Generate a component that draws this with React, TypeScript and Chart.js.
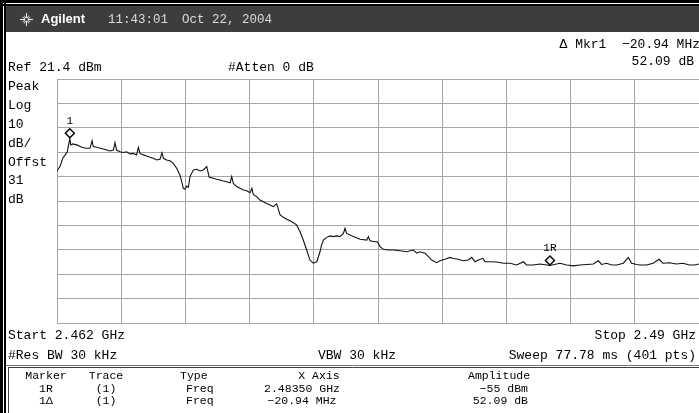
import React, { useEffect, useRef } from "react";
import { Chart, registerables } from "chart.js";

Chart.register(...registerables);

// Sweep / display settings
const START_MHZ = 2462;
const STOP_MHZ = 2490;
const REF_LEVEL_DBM = 21.4;
const DB_PER_DIV = 10;
const DIVISIONS = 10;

// Trace 1: frequency (MHz) and level (dBm)
const traceFreqMHz = [
  2462.0, 2462.13, 2462.25, 2462.35, 2462.45, 2462.56, 2462.6, 2462.68, 2462.86, 2463.08,
  2463.26, 2463.44, 2463.53, 2463.58, 2463.73, 2463.88, 2464.02, 2464.17, 2464.31, 2464.46,
  2464.53, 2464.6, 2464.75, 2464.89, 2465.04, 2465.18, 2465.33, 2465.47, 2465.55, 2465.62,
  2465.77, 2465.91, 2466.06, 2466.2, 2466.35, 2466.49, 2466.58, 2466.64, 2466.78, 2466.93,
  2467.07, 2467.22, 2467.36, 2467.44, 2467.51, 2467.58, 2467.66, 2467.73, 2467.8, 2467.95,
  2468.09, 2468.24, 2468.38, 2468.53, 2468.64, 2468.82, 2468.96, 2469.11, 2469.25, 2469.4,
  2469.55, 2469.62, 2469.69, 2469.84, 2469.98, 2470.13, 2470.27, 2470.42, 2470.5, 2470.56,
  2470.71, 2470.85, 2471.0, 2471.14, 2471.29, 2471.43, 2471.58, 2471.64, 2471.73, 2471.87,
  2472.02, 2472.16, 2472.31, 2472.45, 2472.6, 2472.74, 2472.89, 2473.03, 2473.18, 2473.33,
  2473.47, 2473.54, 2473.62, 2473.76, 2473.91, 2474.05, 2474.2, 2474.34, 2474.49, 2474.56,
  2474.63, 2474.78, 2474.92, 2475.22, 2475.51, 2475.58, 2475.65, 2475.87, 2475.97, 2476.09,
  2476.23, 2476.45, 2476.67, 2476.96, 2477.25, 2477.54, 2477.69, 2477.83, 2478.05, 2478.2,
  2478.34, 2478.56, 2478.7, 2478.92, 2479.14, 2479.29, 2479.5, 2479.72, 2479.94, 2480.09,
  2480.23, 2480.38, 2480.57, 2480.67, 2480.88, 2481.18, 2481.47, 2481.76, 2482.05, 2482.34,
  2482.48, 2482.77, 2483.07, 2483.36, 2483.5, 2483.94, 2484.23, 2484.52, 2484.81, 2485.1,
  2485.39, 2485.61, 2485.75, 2485.97, 2486.19, 2486.41, 2486.7, 2486.92, 2487.06, 2487.28,
  2487.42, 2487.71, 2488.0, 2488.26, 2488.43, 2488.72, 2489.01, 2489.3, 2489.59, 2489.81,
  2490.0,
];
const traceLevelDbm = [
  -16.2, -14.5, -11.1, -9.8, -8.4, -2.91, -5.6, -5.2, -5.6, -6.6,
  -7.0, -7.0, -3.9, -6.3, -6.6, -7.0, -7.3, -7.7, -8.1, -7.7,
  -4.7, -7.7, -8.4, -8.7, -8.4, -9.3, -9.1, -9.7, -6.6, -9.1,
  -9.7, -10.2, -10.7, -11.1, -11.8, -11.5, -8.8, -11.1, -11.8, -12.1,
  -13.2, -15.2, -17.9, -20.7, -23.4, -23.8, -22.5, -23.0, -18.6, -15.9,
  -15.6, -16.3, -15.9, -14.5, -18.9, -19.3, -19.7, -20.0, -20.4, -20.7,
  -21.1, -18.6, -21.4, -22.7, -23.4, -24.1, -24.4, -25.2, -23.4, -25.9,
  -26.8, -28.2, -28.9, -29.6, -30.2, -30.9, -29.8, -31.6, -34.3, -35.3,
  -36.1, -36.7, -37.5, -38.4, -41.2, -44.6, -48.7, -52.8, -54.1, -53.5,
  -49.4, -46.6, -44.6, -43.5, -42.9, -43.2, -42.9, -43.2, -41.9, -39.8,
  -41.9, -42.5, -43.2, -44.3, -44.6, -43.2, -44.9, -45.3, -45.3, -47.3,
  -48.4, -48.7, -48.7, -49.0, -49.4, -48.7, -50.0, -49.4, -50.0, -51.4,
  -52.8, -53.9, -53.1, -52.5, -51.7, -52.2, -52.5, -53.1, -52.8, -51.7,
  -53.5, -52.8, -52.1, -53.5, -53.5, -53.6, -54.1, -54.1, -54.8, -53.5,
  -54.8, -54.8, -54.4, -54.8, -55.0, -54.1, -54.8, -55.2, -54.8, -54.6,
  -54.4, -53.1, -54.6, -54.1, -54.8, -54.8, -54.1, -51.7, -54.1, -54.6,
  -54.8, -54.8, -54.1, -52.5, -54.1, -53.9, -54.4, -54.1, -54.8, -54.8,
  -54.4,
];

// Markers (reference marker 1R and delta marker 1)
const markerNames = ["1", "1R"];
const markerFreqMHz = [2462.56, 2483.5];
const markerLevelDbm = [-2.91, -55];

// Screen annotations
const titleBrand = "Agilent";
const titleTime = "11:43:01";
const titleDate = "Oct 22, 2004";
const deltaReadout = ["\u0394 Mkr1  \u221220.94 MHz", "52.09 dB"];
const refText = "Ref 21.4 dBm";
const attenText = "#Atten 0 dB";
const sideLabels = ["Peak", "Log", "10", "dB/", "Offst", "31", "dB"];
const startText = "Start 2.462 GHz";
const stopText = "Stop 2.49 GHz";
const rbwText = "#Res BW 30 kHz";
const vbwText = "VBW 30 kHz";
const sweepText = "Sweep 77.78 ms (401 pts)";
const tableHeader = ["Marker", "Trace", "Type", "X Axis", "Amplitude"];
const tableRow1 = ["1R", "(1)", "Freq", "2.48350 GHz", "\u221255 dBm"];
const tableRow2 = ["1\u0394", "(1)", "Freq", "\u221220.94 MHz", "52.09 dB"];

const W = 699;
const H = 413;
const MONO = '"Liberation Mono", "DejaVu Sans Mono", monospace';

const screenPlugin = {
  id: "screen",
  beforeDraw(chart: any) {
    const ctx = chart.ctx as CanvasRenderingContext2D;
    ctx.save();
    ctx.fillStyle = "#ffffff";
    ctx.fillRect(0, 0, W, H);
    // outer frame
    ctx.fillStyle = "#000";
    ctx.fillRect(0, 0, W, 3);
    ctx.fillRect(0, 4, W, 2);
    ctx.fillRect(0, 0, 3, H);
    ctx.fillRect(4, 0, 2, H);
    // title bar
    ctx.fillStyle = "#3d3d3d";
    ctx.fillRect(6, 6, W - 6, 26);
    // spark logo
    ctx.strokeStyle = "#e8e8e8";
    ctx.lineWidth = 1;
    const cx = 26.5, cy = 19.5;
    for (let i = 0; i < 12; i++) {
      const a = (i * Math.PI) / 6;
      const r = i % 3 === 0 ? 6.5 : 4.5;
      ctx.beginPath();
      ctx.moveTo(cx + Math.cos(a) * 1.5, cy + Math.sin(a) * 1.5);
      ctx.lineTo(cx + Math.cos(a) * r, cy + Math.sin(a) * r);
      ctx.stroke();
    }
    ctx.textBaseline = "middle";
    ctx.fillStyle = "#ffffff";
    ctx.font = 'bold 13px "Liberation Sans", Arial, sans-serif';
    ctx.fillText(titleBrand, 41, 19.5);
    ctx.fillStyle = "#dcdcdc";
    ctx.font = `12.5px ${MONO}`;
    ctx.fillText(titleTime, 108, 19.5);
    ctx.fillText(titleDate, 182, 19.5);
    ctx.restore();
  },
  afterDatasetsDraw(chart: any) {
    const ctx = chart.ctx as CanvasRenderingContext2D;
    const xs = chart.scales.x;
    const ys = chart.scales.y;
    ctx.save();
    for (let i = 0; i < markerNames.length; i++) {
      const px = xs.getPixelForValue(markerFreqMHz[i]);
      const py = ys.getPixelForValue(markerLevelDbm[i]) - 5;
      const r = 4.5;
      ctx.beginPath();
      ctx.moveTo(px, py - r);
      ctx.lineTo(px + r, py);
      ctx.lineTo(px, py + r);
      ctx.lineTo(px - r, py);
      ctx.closePath();
      ctx.fillStyle = "#fff";
      ctx.fill();
      ctx.strokeStyle = "#000";
      ctx.lineWidth = 1.4;
      ctx.stroke();
      ctx.fillStyle = "#000";
      ctx.font = `11px ${MONO}`;
      ctx.textAlign = "center";
      ctx.textBaseline = "middle";
      ctx.fillText(markerNames[i], px, py - 12);
    }
    ctx.restore();
  },
  afterDraw(chart: any) {
    const ctx = chart.ctx as CanvasRenderingContext2D;
    ctx.save();
    ctx.fillStyle = "#000";
    ctx.textBaseline = "middle";
    ctx.font = `13px ${MONO}`;
    ctx.textAlign = "right";
    ctx.fillText(deltaReadout[0], 700, 45);
    ctx.fillText(deltaReadout[1], 694, 62);
    ctx.textAlign = "left";
    ctx.fillText(refText, 8, 68);
    ctx.fillText(attenText, 228, 68);
    sideLabels.forEach((s, i) => ctx.fillText(s, 8, 87 + i * 18.8));
    ctx.fillText(startText, 8, 336);
    ctx.fillText(rbwText, 8, 356);
    ctx.fillText(vbwText, 318, 356);
    ctx.textAlign = "right";
    ctx.fillText(stopText, 696, 336);
    ctx.fillText(sweepText, 696, 356);

    // marker table frame
    ctx.strokeStyle = "#777";
    ctx.lineWidth = 1;
    ctx.beginPath();
    ctx.moveTo(6, 365.5);
    ctx.lineTo(W, 365.5);
    ctx.stroke();
    ctx.strokeStyle = "#444";
    ctx.beginPath();
    ctx.moveTo(8, 367.5);
    ctx.lineTo(W, 367.5);
    ctx.moveTo(8.5, 367.5);
    ctx.lineTo(8.5, H);
    ctx.stroke();

    ctx.font = `11.5px ${MONO}`;
    const rowY = [376, 389, 400.5];
    const rows = [tableHeader, tableRow1, tableRow2];
    rows.forEach((row, r) => {
      const y = rowY[r];
      ctx.textAlign = "center";
      ctx.fillText(row[0], 46, y);
      ctx.fillText(row[1], 106, y);
      ctx.textAlign = "left";
      ctx.fillText(row[2], r === 0 ? 180 : 186, y);
      ctx.textAlign = "center";
      ctx.fillText(row[3], r === 0 ? 319 : 302, y);
      ctx.textAlign = r === 0 ? "left" : "right";
      ctx.fillText(row[4], r === 0 ? 468 : 528, y);
    });
    ctx.restore();
  },
};

function evenTicks(min: number, max: number) {
  const out: { value: number }[] = [];
  for (let i = 0; i <= DIVISIONS; i++) out.push({ value: min + ((max - min) * i) / DIVISIONS });
  return out;
}

export default function App() {
  const ref = useRef<HTMLCanvasElement | null>(null);

  useEffect(() => {
    if (!ref.current) return;
    const yMax = REF_LEVEL_DBM;
    const yMin = REF_LEVEL_DBM - DB_PER_DIV * DIVISIONS;
    const points = traceFreqMHz.map((f, i) => ({ x: f, y: traceLevelDbm[i] }));
    const chart = new Chart(ref.current, {
      type: "line",
      data: {
        datasets: [
          {
            data: points,
            borderColor: "#111",
            borderWidth: 1.1,
            pointRadius: 0,
            tension: 0,
            fill: false,
          },
        ],
      },
      options: {
        responsive: false,
        animation: false,
        events: [],
        layout: { padding: { left: 57, top: 79, right: 0, bottom: 90 } },
        plugins: { legend: { display: false }, tooltip: { enabled: false } },
        scales: {
          x: {
            type: "linear",
            min: START_MHZ,
            max: STOP_MHZ,
            afterBuildTicks: (s: any) => {
              s.ticks = evenTicks(START_MHZ, STOP_MHZ);
            },
            ticks: { display: false },
            border: { display: false },
            grid: {
              drawTicks: false,
              lineWidth: 1,
              color: (c: any) => (c.index === DIVISIONS ? "rgba(0,0,0,0)" : "#a6a6a6"),
            },
          },
          y: {
            type: "linear",
            min: yMin,
            max: yMax,
            afterBuildTicks: (s: any) => {
              s.ticks = evenTicks(yMin, yMax);
            },
            ticks: { display: false },
            border: { display: false },
            grid: { drawTicks: false, lineWidth: 1, color: "#a6a6a6" },
          },
        },
      },
      plugins: [screenPlugin],
    });
    return () => chart.destroy();
  }, []);

  return (
    <div style={{ position: "fixed", left: 0, top: 0, width: W, height: H }}>
      <canvas ref={ref} width={W} height={H} style={{ display: "block", width: W, height: H }} />
    </div>
  );
}
